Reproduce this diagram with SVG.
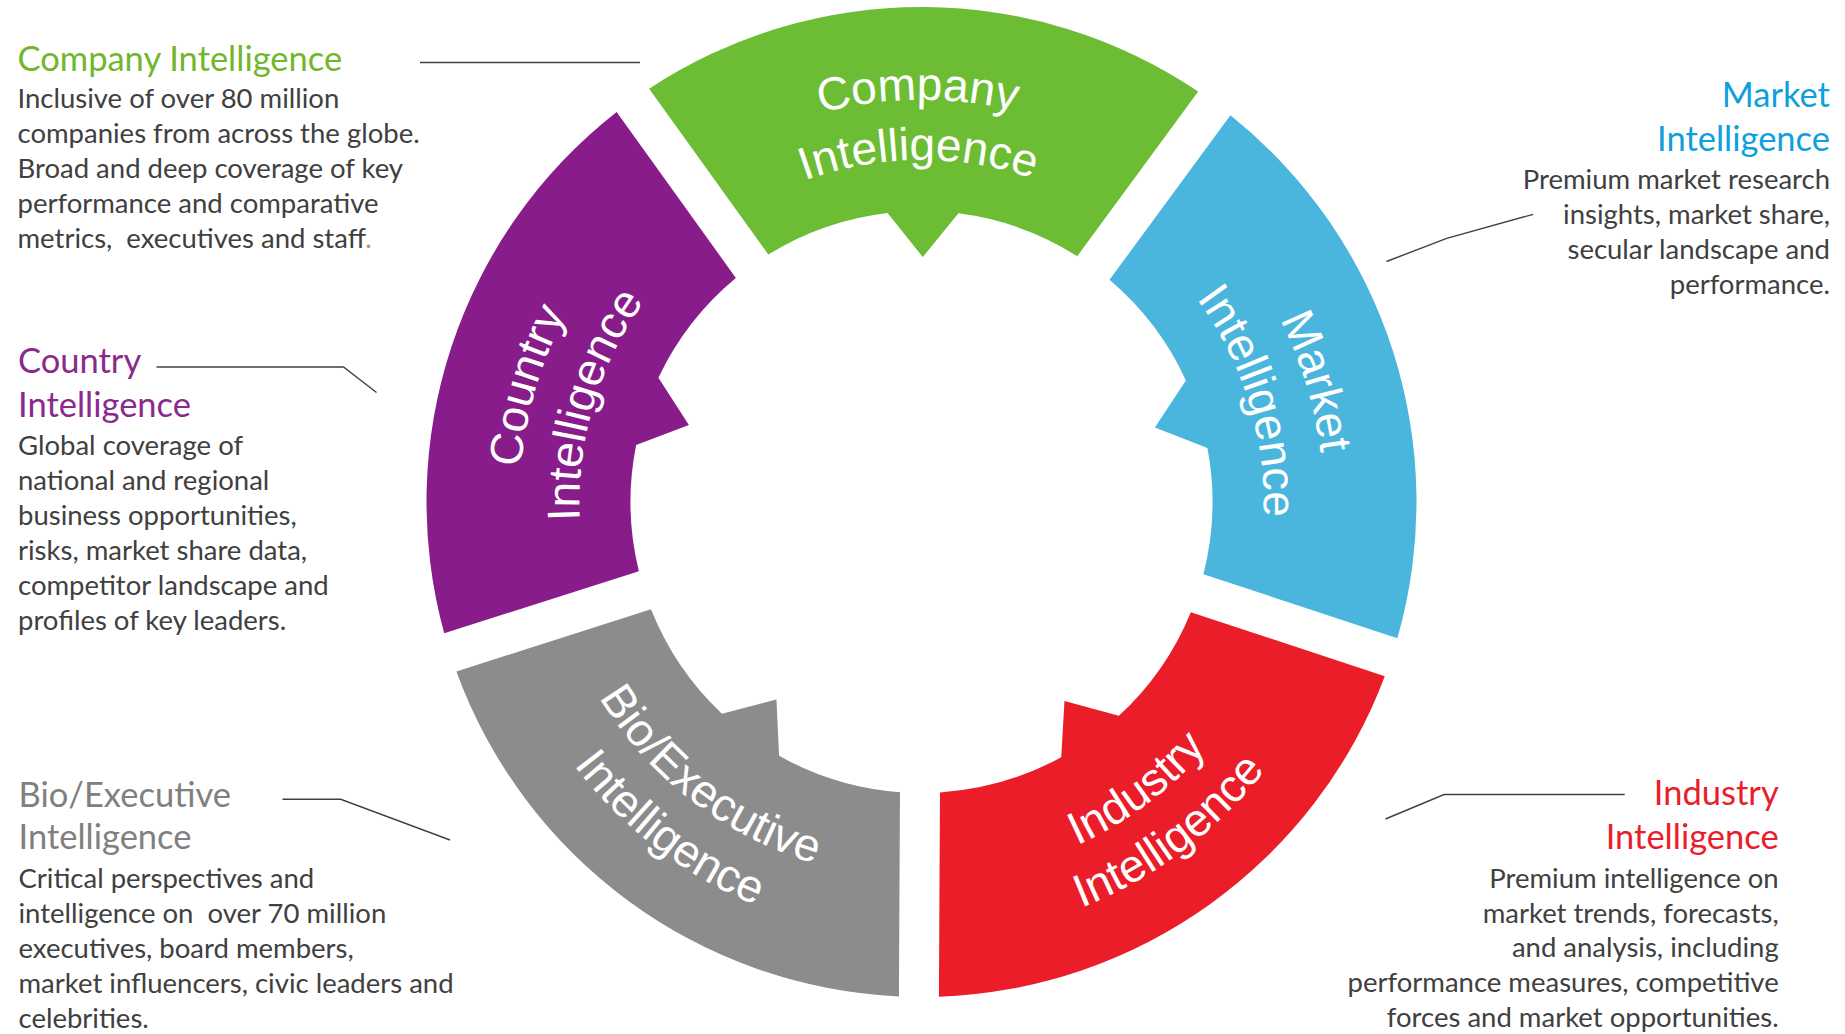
<svg xmlns="http://www.w3.org/2000/svg" xmlns:xlink="http://www.w3.org/1999/xlink" width="1845" height="1034" viewBox="0 0 1845 1034">
<style>
.seg-label{font-family:"Liberation Sans",Arial,sans-serif;font-size:46px;fill:#ffffff;}
.head{font-family:Lato,"Open Sans",sans-serif;font-size:34.5px;}
.body{font-family:Lato,"Open Sans",sans-serif;font-size:27.5px;fill:#404040;}
.lead{fill:none;stroke:#404040;stroke-width:1.4;}
</style>
<defs>
<path id="segShape" d="M -274.54,-411.89 A 495 495 0 0 1 274.54,-411.89 L 154.46,-246.63 A 291 291 0 0 0 35.46,-288.83 L 0,-245 L -35.46,-288.83 A 291 291 0 0 0 -154.46,-246.63 Z"/>
<path id="outArc1" d="M -377.8,-137.5 A 402 402 0 0 1 377.8,-137.5"/>
<path id="outArc2" d="M -321.4,-117.0 A 342 342 0 0 1 321.4,-117.0"/>
<path id="inArc1" d="M -354.26,128.94 A 377 377 0 0 0 354.26,128.94"/>
<path id="inArc2" d="M -409.7,149.1 A 436 436 0 0 0 409.7,149.1"/>
</defs>
<rect width="1845" height="1034" fill="#ffffff"/>

<g id="connectors">
<polyline class="lead" points="420,62.5 640,62.5"/>
<polyline class="lead" points="156.5,367 343.5,367 376.5,392.5"/>
<polyline class="lead" points="282.5,799.3 340.7,799.3 450,840"/>
<polyline class="lead" points="1386.5,261.5 1446.7,238.3 1533.3,214.3"/>
<polyline class="lead" points="1385.5,819 1444,794.5 1624.7,794.5"/>
</g>

<g id="company">
<use href="#segShape" fill="#6CBD33" transform="translate(921.5,502) rotate(0.3)"/>
<text class="seg-label" text-anchor="middle" transform="translate(921.5,502) rotate(-0.5)"><textPath href="#outArc1" startOffset="50%">Company</textPath></text>
<text class="seg-label" text-anchor="middle" transform="translate(921.5,502) rotate(-0.5)"><textPath href="#outArc2" startOffset="50%">Intelligence</textPath></text>
</g>

<g id="market">
<use href="#segShape" fill="#4AB6DE" transform="translate(921.5,502) rotate(72.3)"/>
<text class="seg-label" text-anchor="middle" transform="translate(921.5,502) rotate(73)"><textPath href="#outArc1" startOffset="50%">Market</textPath></text>
<text class="seg-label" text-anchor="middle" transform="translate(921.5,502) rotate(73)"><textPath href="#outArc2" startOffset="50%">Intelligence</textPath></text>
</g>

<g id="industry">
<use href="#segShape" fill="#EA1D29" transform="translate(921.5,502) rotate(144.3)"/>
<text class="seg-label" text-anchor="middle" transform="translate(921.5,502) rotate(-36.8)"><textPath href="#inArc1" startOffset="50%">Industry</textPath></text>
<text class="seg-label" text-anchor="middle" transform="translate(921.5,502) rotate(-36.8)"><textPath href="#inArc2" startOffset="50%">Intelligence</textPath></text>
</g>

<g id="bio-executive">
<use href="#segShape" fill="#8C8C8C" transform="translate(921.5,502) rotate(216.3)"/>
<text class="seg-label" text-anchor="middle" transform="translate(921.5,502) rotate(37.6)"><textPath href="#inArc1" startOffset="50%">Bio/Executive</textPath></text>
<text class="seg-label" text-anchor="middle" transform="translate(921.5,502) rotate(37.6)"><textPath href="#inArc2" startOffset="50%">Intelligence</textPath></text>
</g>

<g id="country">
<use href="#segShape" fill="#881C8A" transform="translate(921.5,502) rotate(288.3)"/>
<text class="seg-label" text-anchor="middle" transform="translate(921.5,502) rotate(286.4)"><textPath href="#outArc1" startOffset="50%">Country</textPath></text>
<text class="seg-label" text-anchor="middle" transform="translate(921.5,502) rotate(286.4)"><textPath href="#outArc2" startOffset="50%">Intelligence</textPath></text>
</g>

<g id="company-desc">
<text class="head" x="17.5" y="70.7" fill="#72B62B">Company Intelligence</text>
<text class="body" x="17.5" y="108.3">Inclusive of over 80 million</text>
<text class="body" x="17.5" y="143.3">companies from across the globe.</text>
<text class="body" x="17.5" y="178.3">Broad and deep coverage of key</text>
<text class="body" x="17.5" y="213.3">performance and comparative</text>
<text class="body" x="17.5" y="248.3" xml:space="preserve">metrics,  executives and staff<tspan fill="#B8963E">.</tspan></text>
</g>

<g id="country-desc">
<text class="head" x="18" y="373.3" fill="#8B2A8C">Country</text>
<text class="head" x="18" y="417.3" fill="#8B2A8C">Intelligence</text>
<text class="body" x="18" y="455">Global coverage of</text>
<text class="body" x="18" y="490">national and regional</text>
<text class="body" x="18" y="525">business opportunities,</text>
<text class="body" x="18" y="560">risks, market share data,</text>
<text class="body" x="18" y="595">competitor landscape and</text>
<text class="body" x="18" y="630">profiles of key leaders.</text>
</g>

<g id="bio-desc">
<text class="head" x="18.5" y="806.7" fill="#808080">Bio/Executive</text>
<text class="head" x="18.5" y="849.3" fill="#808080">Intelligence</text>
<text class="body" x="18.5" y="888.3">Critical perspectives and</text>
<text class="body" x="18.5" y="923.3" xml:space="preserve">intelligence on  over 70 million</text>
<text class="body" x="18.5" y="958.3">executives, board members,</text>
<text class="body" x="18.5" y="993.3">market influencers, civic leaders and</text>
<text class="body" x="18.5" y="1028.3">celebrities.</text>
</g>

<g id="market-desc" text-anchor="end">
<text class="head" x="1830" y="106.7" fill="#0EA0DC">Market</text>
<text class="head" x="1830" y="150.7" fill="#0EA0DC">Intelligence</text>
<text class="body" x="1830" y="189.3">Premium market research</text>
<text class="body" x="1830" y="224.3">insights, market share,</text>
<text class="body" x="1830" y="259.3">secular landscape and</text>
<text class="body" x="1830" y="294.3">performance.</text>
</g>

<g id="industry-desc" text-anchor="end">
<text class="head" x="1778.7" y="805" fill="#EA1D29">Industry</text>
<text class="head" x="1778.7" y="849.3" fill="#EA1D29">Intelligence</text>
<text class="body" x="1778.7" y="888.3">Premium intelligence on</text>
<text class="body" x="1778.7" y="922.7">market trends, forecasts,</text>
<text class="body" x="1778.7" y="957.3">and analysis, including</text>
<text class="body" x="1778.7" y="992.3">performance measures, competitive</text>
<text class="body" x="1778.7" y="1026.7">forces and market opportunities.</text>
</g>
</svg>
